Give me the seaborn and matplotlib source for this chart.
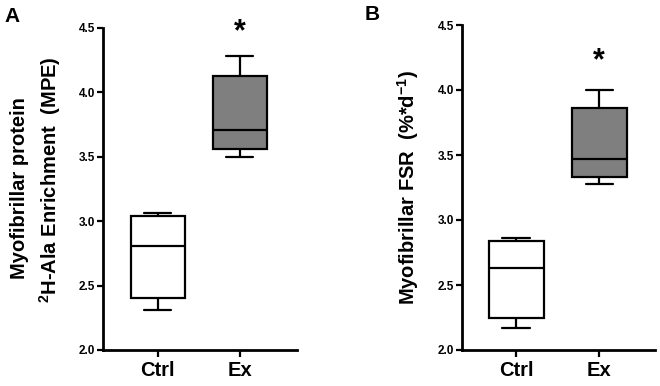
import matplotlib
matplotlib.use('Agg')
import matplotlib.pyplot as plt
import pandas as pd
import seaborn as sns

# five-number summaries (min, Q1, median, Q3, max)
groups = ['Ctrl', 'Ex']
enrich_ctrl = [2.31, 2.40, 2.81, 3.04, 3.06]
enrich_ex = [3.50, 3.56, 3.71, 4.13, 4.28]
fsr_ctrl = [2.17, 2.25, 2.63, 2.84, 2.86]
fsr_ex = [3.28, 3.33, 3.47, 3.86, 4.00]
box_colors = ['white', '#7f7f7f']
yticks = [2.0, 2.5, 3.0, 3.5, 4.0, 4.5]

sns.set_style('ticks', {'axes.edgecolor': 'black', 'text.color': 'black',
                        'xtick.color': 'black', 'ytick.color': 'black'})
plt.rcParams['font.family'] = ['Liberation Sans', 'DejaVu Sans']
plt.rcParams['font.weight'] = 'bold'
plt.rcParams['mathtext.fontset'] = 'custom'
plt.rcParams['mathtext.rm'] = 'Liberation Sans:bold'
plt.rcParams['mathtext.bf'] = 'Liberation Sans:bold'


def make_df(ctrl, ex):
    return pd.DataFrame({'group': ['Ctrl'] * len(ctrl) + ['Ex'] * len(ex),
                         'value': ctrl + ex})


fig = plt.figure(figsize=(6.6, 3.86), dpi=100)
axA = fig.add_axes([103 / 660, 1 - 350 / 386, 194 / 660, 322 / 386])
axB = fig.add_axes([462 / 660, 1 - 350 / 386, 193 / 660, 325 / 386])

panels = [(axA, make_df(enrich_ctrl, enrich_ex), (-0.67, 1.70), 4.47),
          (axB, make_df(fsr_ctrl, fsr_ex), (-0.65, 1.67), 4.22)]

for ax, df, xlim, star_y in panels:
    sns.boxplot(data=df, x='group', y='value', hue='group', order=groups,
                hue_order=groups, palette=box_colors, whis=(0, 100),
                width=0.66, linecolor='black', linewidth=1.6,
                showfliers=False, legend=False, ax=ax)
    ax.set_xlim(*xlim)
    ax.set_ylim(2.0, 4.5)
    ax.set_yticks(yticks)
    ax.set_yticklabels([f'{t:.1f}' for t in yticks])
    ax.set_xlabel('')
    ax.set_ylabel('')
    sns.despine(ax=ax)
    for s in ['left', 'bottom']:
        ax.spines[s].set_linewidth(2)
        ax.spines[s].set_color('black')
    ax.tick_params(axis='y', labelsize=8.5, length=4, width=1.6, pad=1.5,
                   colors='black')
    ax.tick_params(axis='x', labelsize=14.5, length=5, width=1.6, pad=3,
                   colors='black')
    for lab in ax.get_xticklabels() + ax.get_yticklabels():
        lab.set_fontweight('bold')
    ax.text(1, star_y, '*', ha='center', va='center', fontsize=22,
            fontweight='bold', color='black', clip_on=False)

fig.text(20 / 660, 1 - 188 / 386, 'Myofibrillar protein', rotation=90,
         ha='center', va='center', fontsize=14.5, fontweight='bold',
         color='black')
fig.text(50 / 660, 1 - 180 / 386, r'$^{2}$H-Ala Enrichment  (MPE)',
         rotation=90, ha='center', va='center', fontsize=14.5,
         fontweight='bold', color='black')
fig.text(408 / 660, 1 - 188 / 386, r'Myofibrillar FSR  (%*d$^{-1}$)',
         rotation=90, ha='center', va='center', fontsize=14.5,
         fontweight='bold', color='black')

fig.text(12 / 660, 1 - 16 / 386, 'A', ha='center', va='center',
         fontsize=15, fontweight='bold', color='black')
fig.text(372 / 660, 1 - 14 / 386, 'B', ha='center', va='center',
         fontsize=15, fontweight='bold', color='black')

plt.savefig('out.png', dpi=100)
